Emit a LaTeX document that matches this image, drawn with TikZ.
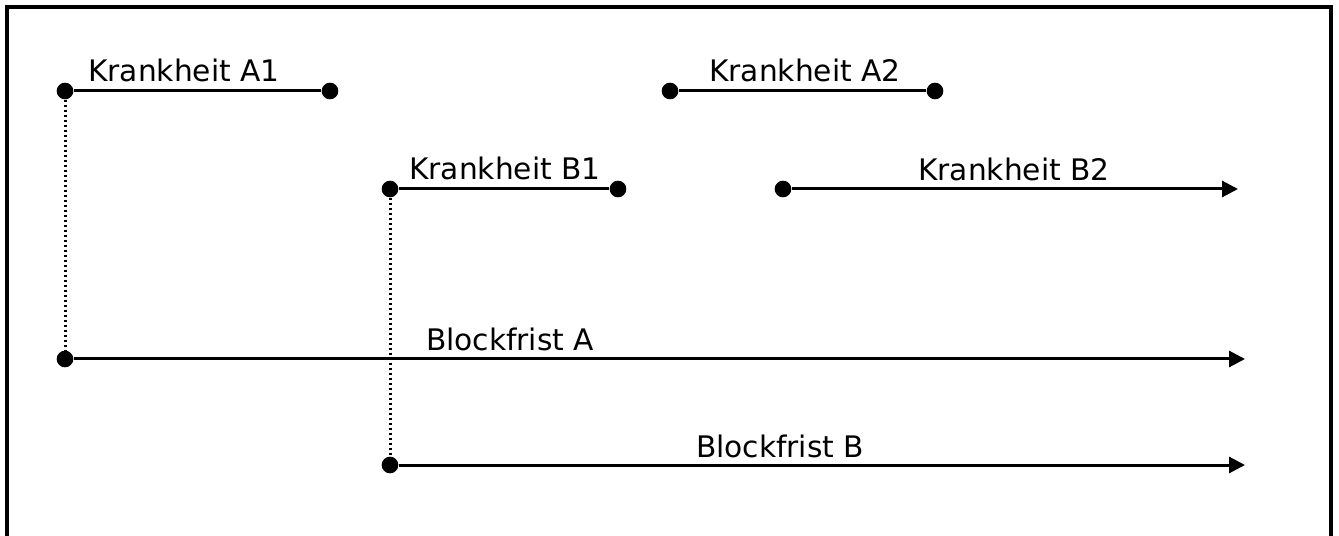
\documentclass[tikz,border=0pt]{standalone}
\usepackage{fontspec}
\setmainfont{DejaVu Sans}
\usetikzlibrary{arrows.meta}

\tikzset{
    punkt/.style={circle, fill=black, inner sep=0pt, minimum size=10pt},
    zeit/.style={line width=1.8pt},
    pfeil/.style={zeit, -{Triangle[length=9.6pt, width=9.6pt]}},
    lauf/.style={anchor=base, font=\fontsize{17.8}{20}\selectfont, inner sep=0pt},
    beginn/.style={line width=1.8pt, dash pattern=on 1.5pt off 1.5pt},
}

\begin{document}
\begin{tikzpicture}[x=0.6pt, y=-0.6pt]
    \useasboundingbox (0,0) rectangle (1339,536);
    % Rahmen (unten offen)
    \draw[line width=2.8pt] (7,545) -- (7,7) -- (1331,7) -- (1331,545);

    % Krankheiten
    \node[punkt] (a1s) at (65,91) {};
    \node[punkt] (a1e) at (330,91) {};
    \draw[zeit] (a1s) -- (a1e);
    \node[lauf] (ta1) at (184,82) {Krankheit A1};

    \node[punkt] (a2s) at (670,91) {};
    \node[punkt] (a2e) at (935,91) {};
    \draw[zeit] (a2s) -- (a2e);
    \node[lauf] (ta2) at (805,82) {Krankheit A2};

    \node[punkt] (b1s) at (390,189) {};
    \node[punkt] (b1e) at (618,189) {};
    \draw[zeit] (b1s) -- (b1e);
    \node[lauf] (tb1) at (505,180) {Krankheit B1};

    \node[punkt] (b2s) at (783,189) {};
    \coordinate (b2e) at (1238,189);
    \draw[pfeil] (b2s) -- (b2e);
    \node[lauf] (tb2) at (1014,181) {Krankheit B2};

    % Blockfristen
    \node[punkt] (bas) at (65,359) {};
    \coordinate (bae) at (1245,359);
    \draw[pfeil] (bas) -- (bae);
    \node[lauf] (tba) at (510,351) {Blockfrist A};

    \node[punkt] (bbs) at (390,465) {};
    \coordinate (bbe) at (1245,465);
    \draw[pfeil] (bbs) -- (bbe);
    \node[lauf] (tbb) at (780,457) {Blockfrist B};

    % Beginn der Fristen
    \draw[beginn] (a1s) -- (bas);
    \draw[beginn] (b1s) -- (bbs);
\end{tikzpicture}
\end{document}
